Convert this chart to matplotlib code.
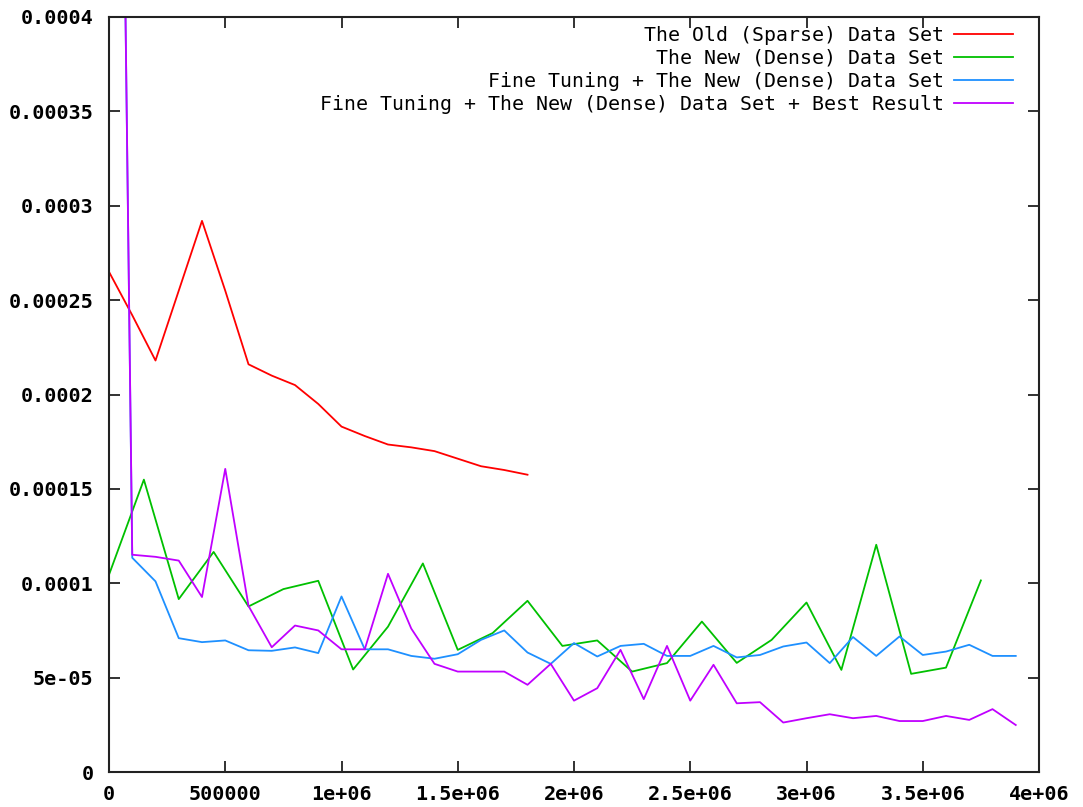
import numpy as np
import matplotlib
matplotlib.use("Agg")
import matplotlib.pyplot as plt

# series
x_old = [0, 100000, 200000, 300000, 400000, 500000, 600000, 700000, 800000, 900000,
         1000000, 1100000, 1200000, 1300000, 1400000, 1500000, 1600000, 1700000, 1800000]
y_old = [2.65e-4, 2.42e-4, 2.18e-4, 2.55e-4, 2.92e-4, 2.55e-4, 2.16e-4, 2.10e-4, 2.05e-4, 1.95e-4,
         1.83e-4, 1.78e-4, 1.735e-4, 1.72e-4, 1.70e-4, 1.66e-4, 1.62e-4, 1.60e-4, 1.575e-4]

x_new = [0, 150000, 300000, 450000, 600000, 750000, 900000, 1050000, 1200000, 1350000,
         1500000, 1650000, 1800000, 1950000, 2100000, 2250000, 2400000, 2550000, 2700000,
         2850000, 3000000, 3150000, 3300000, 3450000, 3600000, 3750000]
y_new = [1.045e-4, 1.549e-4, 9.16e-5, 1.166e-4, 8.77e-5, 9.69e-5, 1.013e-4, 5.43e-5, 7.7e-5, 1.105e-4,
         6.47e-5, 7.36e-5, 9.07e-5, 6.68e-5, 6.97e-5, 5.32e-5, 5.77e-5, 7.97e-5, 5.78e-5,
         7.0e-5, 8.98e-5, 5.41e-5, 1.204e-4, 5.2e-5, 5.53e-5, 1.015e-4]

x_fine = [0] + [100000 * i for i in range(1, 40)]
y_fine = [1.1e-3, 1.135e-4, 1.01e-4, 7.09e-5, 6.88e-5, 6.97e-5, 6.45e-5, 6.42e-5, 6.6e-5, 6.3e-5,
          9.3e-5, 6.5e-5, 6.5e-5, 6.15e-5, 6.0e-5, 6.24e-5, 7.0e-5, 7.5e-5, 6.33e-5, 5.73e-5,
          6.83e-5, 6.12e-5, 6.68e-5, 6.79e-5, 6.15e-5, 6.15e-5, 6.68e-5, 6.07e-5, 6.2e-5, 6.65e-5,
          6.86e-5, 5.77e-5, 7.15e-5, 6.15e-5, 7.18e-5, 6.2e-5, 6.38e-5, 6.74e-5, 6.15e-5, 6.15e-5]

x_best = [0] + [100000 * i for i in range(1, 40)]
y_best = [1.1e-3, 1.151e-4, 1.14e-4, 1.12e-4, 9.27e-5, 1.606e-4, 8.8e-5, 6.61e-5, 7.76e-5, 7.5e-5,
          6.5e-5, 6.5e-5, 1.05e-4, 7.6e-5, 5.73e-5, 5.32e-5, 5.32e-5, 5.32e-5, 4.62e-5, 5.73e-5,
          3.78e-5, 4.44e-5, 6.47e-5, 3.86e-5, 6.68e-5, 3.78e-5, 5.68e-5, 3.64e-5, 3.7e-5, 2.62e-5,
          2.85e-5, 3.06e-5, 2.85e-5, 2.97e-5, 2.7e-5, 2.7e-5, 2.97e-5, 2.76e-5, 3.33e-5, 2.49e-5]

labels = ["The Old (Sparse) Data Set",
          "The New (Dense) Data Set",
          "Fine Tuning + The New (Dense) Data Set",
          "Fine Tuning + The New (Dense) Data Set + Best Result"]
colors = ["#ff0000", "#00c000", "#1e90ff", "#c000ff"]

xticks = [0, 500000, 1000000, 1500000, 2000000, 2500000, 3000000, 3500000, 4000000]
xtick_labels = ["0", "500000", "1e+06", "1.5e+06", "2e+06", "2.5e+06", "3e+06", "3.5e+06", "4e+06"]
yticks = [0, 5e-5, 1e-4, 1.5e-4, 2e-4, 2.5e-4, 3e-4, 3.5e-4, 4e-4]
ytick_labels = ["0", "5e-05", "0.0001", "0.00015", "0.0002", "0.00025", "0.0003", "0.00035", "0.0004"]

fig = plt.figure(figsize=(10.83, 8.07), dpi=100)
ax = fig.add_axes([109 / 1083, 1 - 772 / 807, 930 / 1083, 755 / 807])

for xs, ys, lab, c in zip([x_old, x_new, x_fine, x_best], [y_old, y_new, y_fine, y_best], labels, colors):
    ax.plot(xs, ys, color=c, lw=1.3, label=lab)

ax.set_xlim(0, 4000000)
ax.set_ylim(0, 0.0004)
ax.set_xticks(xticks)
ax.set_xticklabels(xtick_labels)
ax.set_yticks(yticks)
ax.set_yticklabels(ytick_labels)

for s in ax.spines.values():
    s.set_linewidth(1.5)
    s.set_color("#222222")
ax.tick_params(direction="in", length=8, width=1.3, top=True, right=True, color="#222222")
ax.tick_params(axis="y", pad=11)
ax.tick_params(axis="x", pad=9)
for t in ax.get_xticklabels() + ax.get_yticklabels():
    t.set_fontfamily("DejaVu Sans Mono")
    t.set_fontweight("bold")
    t.set_fontsize(14.5)

leg = ax.legend(loc="upper right", bbox_to_anchor=(1 - 12 / 930, 1 + 5 / 755),
                frameon=False, markerfirst=False,
                prop={"family": "DejaVu Sans Mono", "size": 14.3},
                handlelength=3.0, handletextpad=0.5, labelspacing=0.2,
                borderaxespad=0.3, borderpad=0.4)

fig.savefig("out.png", dpi=100)
